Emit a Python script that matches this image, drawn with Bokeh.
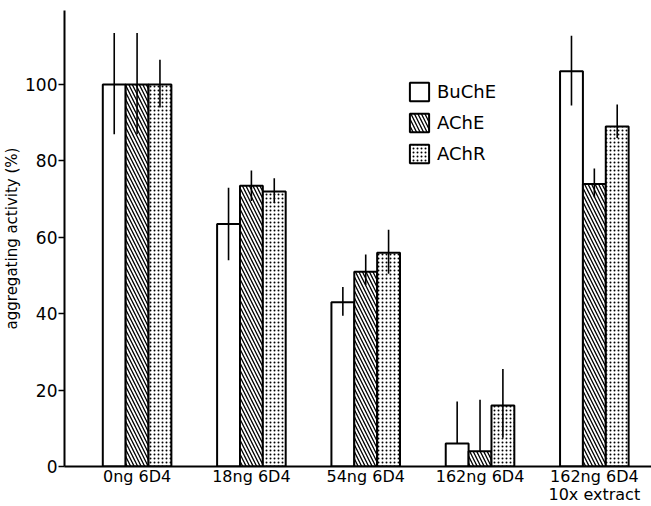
from bokeh.plotting import figure
from bokeh.models import Range1d, FixedTicker, ColumnDataSource, Legend, LegendItem
from bokeh.transform import dodge
from bokeh.embed import file_html
from bokeh.resources import INLINE

categories = ["0ng 6D4", "18ng 6D4", "54ng 6D4", "162ng 6D4", "162ng 6D4\n10x extract"]
series = ["BuChE", "AChE", "AChR"]

buche = [100, 63.5, 43, 6, 103.5]
buche_lo = [87, 54, 39.5, 6, 94.5]
buche_hi = [113.5, 73, 47, 17, 112.8]

ache = [100, 73.5, 51, 4, 74]
ache_lo = [87, 69.5, 47.5, 4, 70.5]
ache_hi = [113.5, 77.5, 55.5, 17.5, 78]

achr = [100, 72, 56, 16, 89]
achr_lo = [94, 69, 50.5, 7.5, 86]
achr_hi = [106.5, 75.5, 62, 25.5, 94.8]

y_ticks = [0, 20, 40, 60, 80, 100]

FONT = "DejaVu Sans"

pos = list(range(1, len(categories) + 1))
src = ColumnDataSource(dict(
    x=pos,
    buche=buche, buche_lo=buche_lo, buche_hi=buche_hi,
    ache=ache, ache_lo=ache_lo, ache_hi=ache_hi,
    achr=achr, achr_lo=achr_lo, achr_hi=achr_hi,
))

p = figure(width=651, height=506, output_backend="svg", toolbar_location=None,
           x_range=Range1d(0.365, 5.5), y_range=Range1d(0, 119.4),
           min_border_left=64, min_border_right=0, min_border_top=10, min_border_bottom=40)
p.outline_line_color = None
p.xgrid.visible = False
p.ygrid.visible = False
p.background_fill_color = "white"

w = 0.2
offsets = [-0.2, 0.0, 0.2]
common = dict(source=src, width=w, line_color="black", line_width=2, fill_color="white")

r1 = p.vbar(x=dodge("x", offsets[0], range=p.x_range), top="buche", **common)
r2 = p.vbar(x=dodge("x", offsets[1], range=p.x_range), top="ache",
            hatch_pattern="\\", hatch_scale=7, hatch_weight=1.3, hatch_color="black", **common)
r3 = p.vbar(x=dodge("x", offsets[2], range=p.x_range), top="achr",
            hatch_pattern=".", hatch_scale=4, hatch_weight=1.3, hatch_color="black", **common)

for off, key in zip(offsets, ["buche", "ache", "achr"]):
    xd = dodge("x", off, range=p.x_range)
    p.segment(x0=xd, x1=xd, y0=key + "_lo", y1=key + "_hi", source=src,
              line_color="black", line_width=1.6)

# axes
yax = p.yaxis[0]
yax.ticker = FixedTicker(ticks=y_ticks)
yax.minor_tick_line_color = None
yax.major_tick_out = 6
yax.major_tick_in = 0
yax.major_tick_line_width = 1.5
yax.axis_line_width = 2
yax.major_label_text_font = FONT
yax.major_label_text_font_size = "17px"
yax.major_label_text_color = "black"
yax.major_label_standoff = 1
yax.axis_label = "aggregating activity (%)"
yax.axis_label_text_font = FONT
yax.axis_label_text_font_size = "15px"
yax.axis_label_text_font_style = "normal"
yax.axis_label_text_color = "black"
yax.axis_label_standoff = 1

xax = p.xaxis[0]
xax.ticker = FixedTicker(ticks=pos)
xax.major_label_overrides = {i: c for i, c in zip(pos, categories)}
xax.minor_tick_line_color = None
xax.major_tick_out = 0
xax.major_tick_in = 0
xax.axis_line_width = 2
xax.major_label_text_font = FONT
xax.major_label_text_font_size = "16px"
xax.major_label_text_color = "black"
xax.major_label_standoff = 0
xax.major_label_text_line_height = 0.95

legend = Legend(items=[LegendItem(label=s, renderers=[r]) for s, r in zip(series, [r1, r2, r3])],
                location=(343, 301), border_line_color=None, background_fill_alpha=0,
                glyph_width=24, glyph_height=23, spacing=8, padding=0, margin=0,
                label_standoff=6, label_text_font=FONT, label_text_font_size="18px",
                label_text_color="black")
p.add_layout(legend)

open("out.html", "w").write(file_html(p, INLINE))
